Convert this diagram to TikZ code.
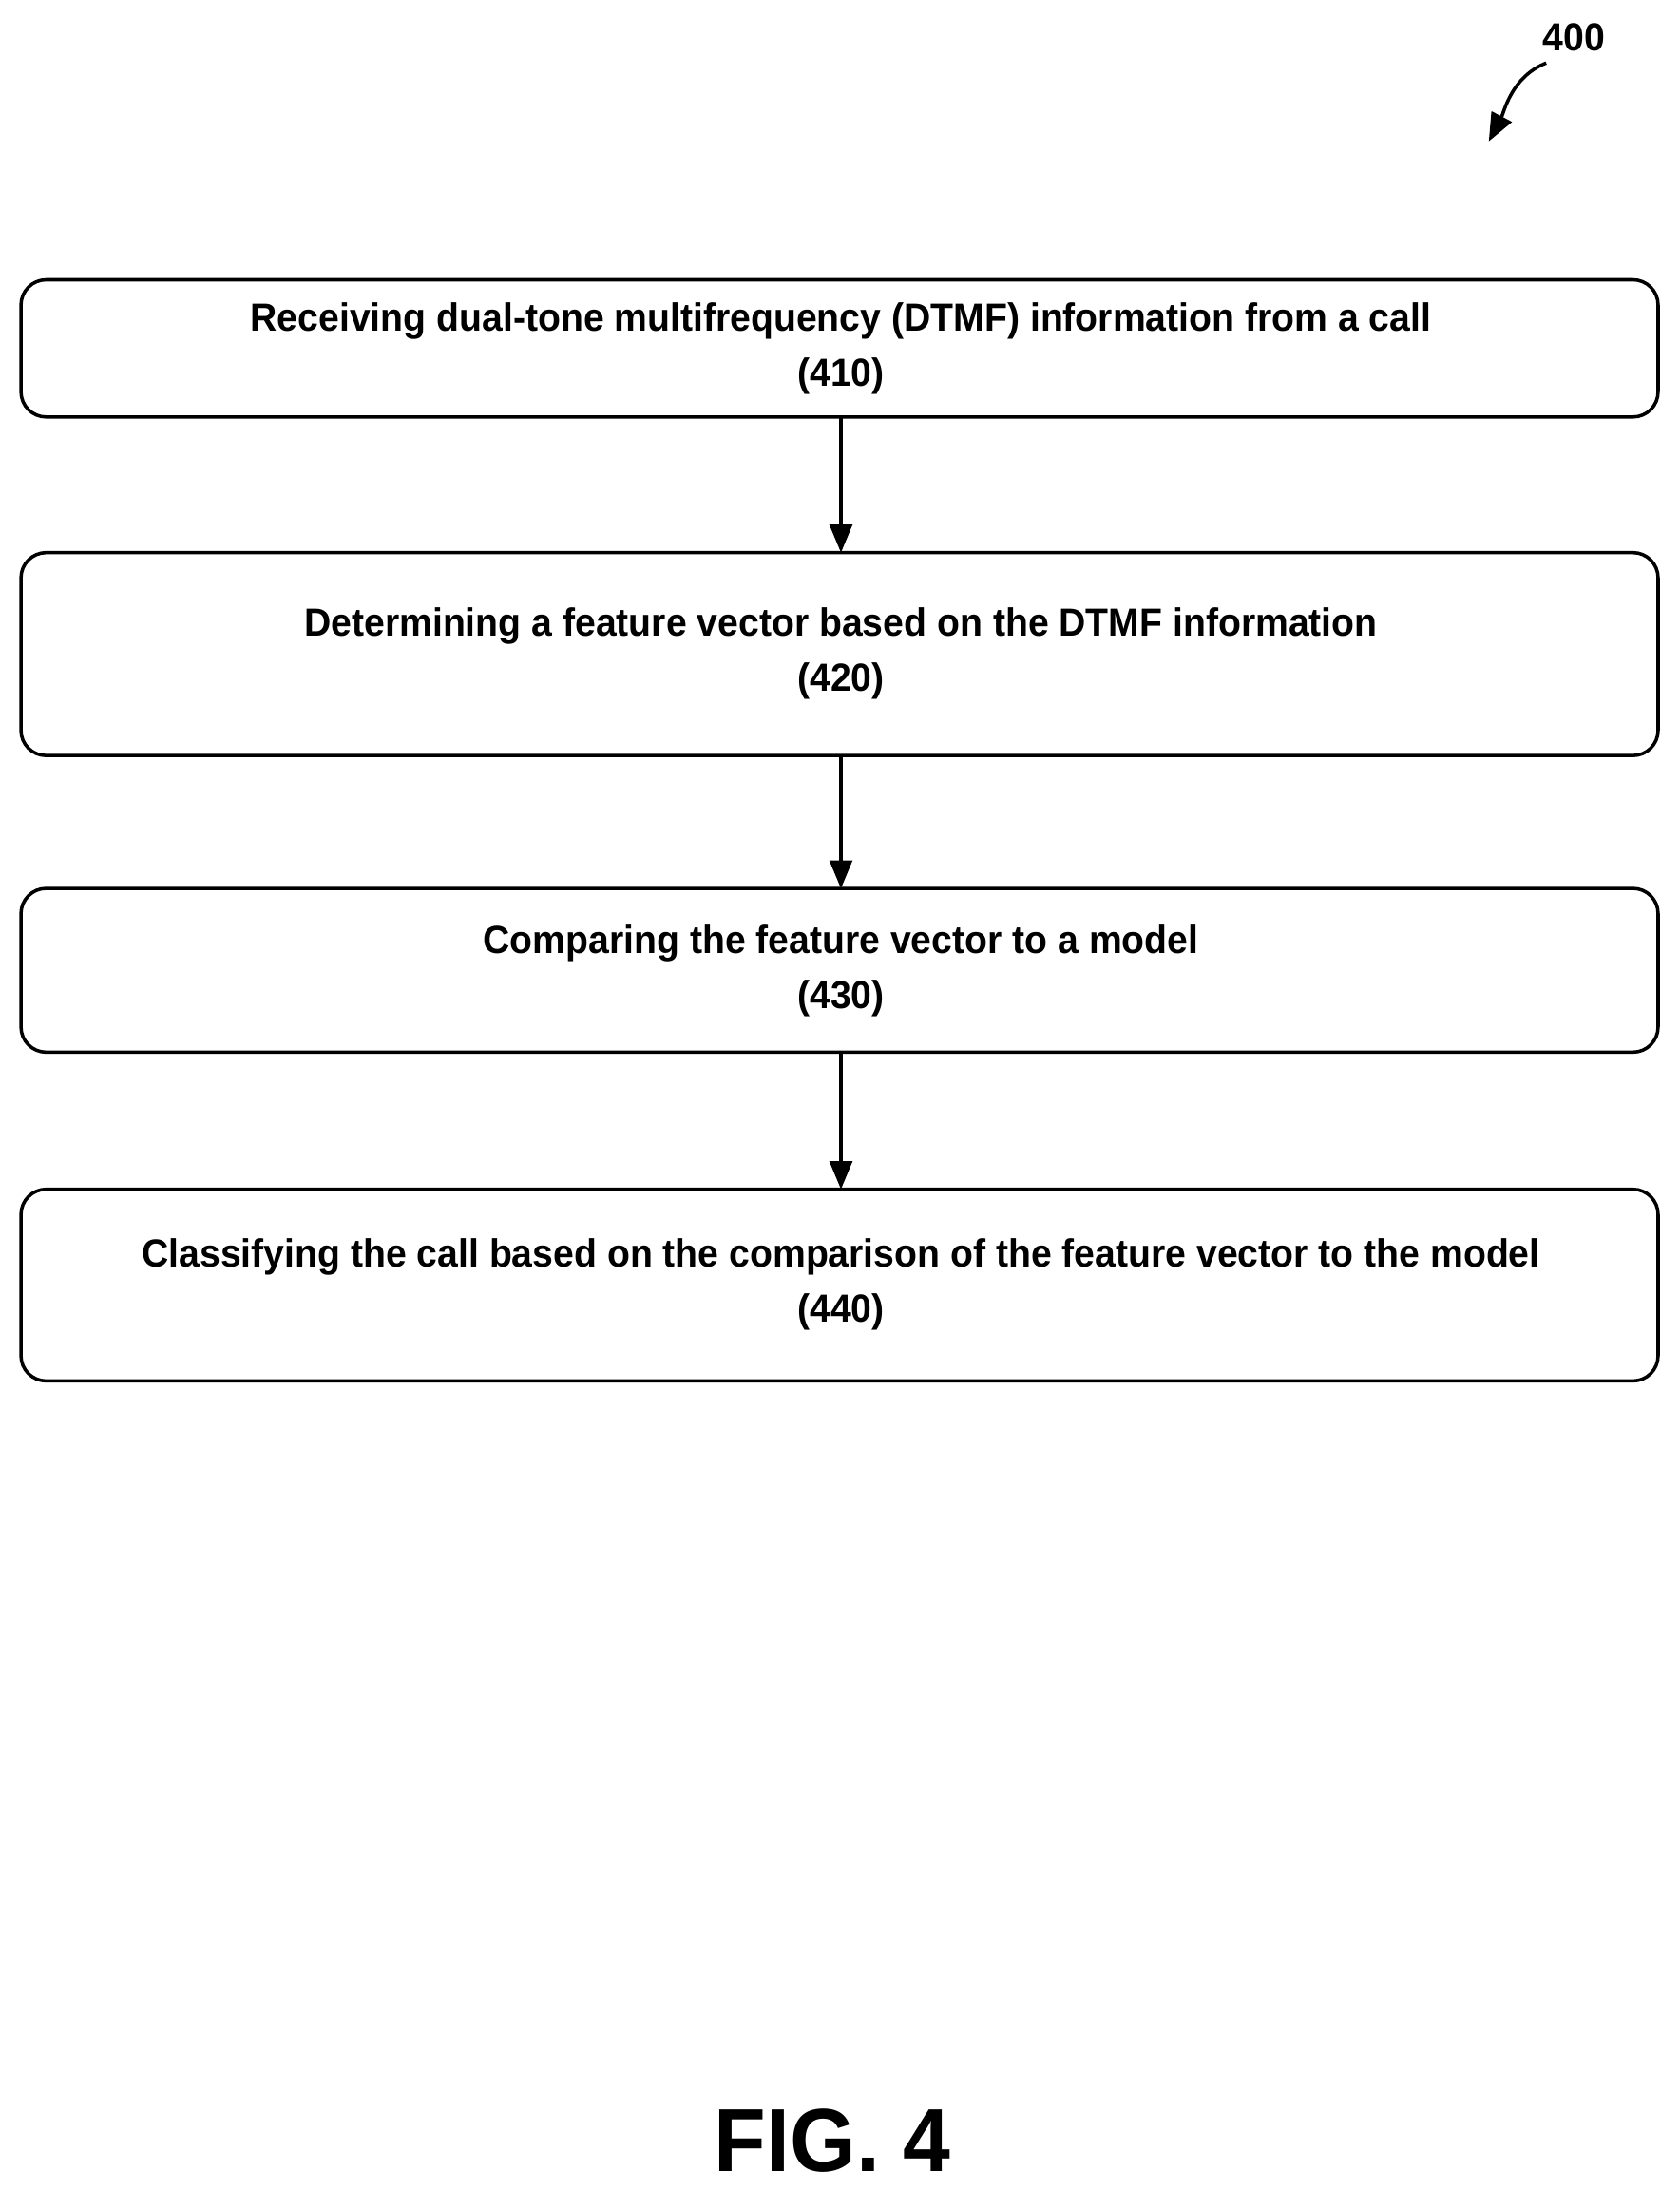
\documentclass[tikz,border=0pt]{standalone}
\usepackage{fontspec}
\setmainfont{Liberation Sans}[FakeStretch=0.95]
\usetikzlibrary{arrows.meta}
\begin{document}
\begin{tikzpicture}[x=1pt,y=-1pt,
  box/.style={draw,line width=2.4pt,rounded corners=18pt},
  lbl/.style={font=\fontsize{28}{39}\selectfont\bfseries,align=center},
  arr/.style={line width=2.4pt,-{Triangle[length=20pt,width=16pt]}}]
\useasboundingbox (0,0) rectangle (1200,1566);
\draw[box] (15,200) rectangle (1185,298);
\node[lbl] (t1) at (601,249) {Receiving dual-tone multifrequency (DTMF) information from a call\\(410)};
\draw[box] (15,395) rectangle (1185,540);
\node[lbl] (t2) at (601,467) {Determining a feature vector based on the DTMF information\\(420)};
\draw[box] (15,635) rectangle (1185,752);
\node[lbl] (t3) at (601,694) {Comparing the feature vector to a model\\(430)};
\draw[box] (15,850) rectangle (1185,987);
\node[lbl] (t4) at (601,918) {Classifying the call based on the comparison of the feature vector to the model\\(440)};
\coordinate (a1) at (601,298); \coordinate (b1) at (601,395);
\coordinate (a2) at (601,540); \coordinate (b2) at (601,635);
\coordinate (a3) at (601,752); \coordinate (b3) at (601,850);
\draw[arr] (a1)--(b1);
\draw[arr] (a2)--(b2);
\draw[arr] (a3)--(b3);
\node[lbl] (n400) at (1125,27) {400};
\coordinate (c1) at (1105,45); \coordinate (c2) at (1064,101);
\draw[arr] (c1) .. controls (1080,55) and (1075,80) .. (c2);
\node[font=\fontsize{64}{70}\selectfont\bfseries] (fig) at (595,1530) {FIG. 4};
\end{tikzpicture}
\end{document}
